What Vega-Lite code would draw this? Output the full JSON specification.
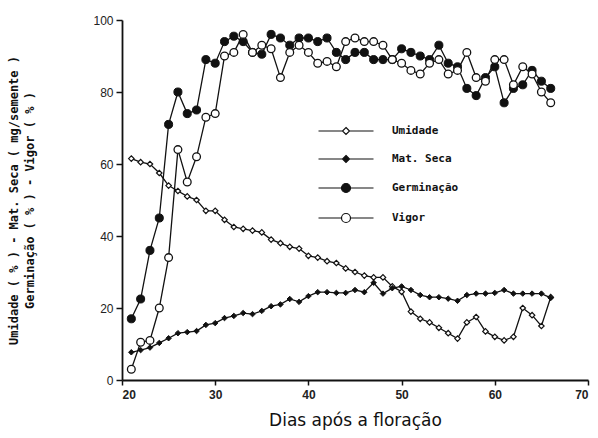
{
  "$schema": "https://vega.github.io/schema/vega-lite/v6.json",
  "autosize": "none",
  "width": 466,
  "height": 360,
  "padding": {"left": 122, "top": 20, "right": 10, "bottom": 58},
  "background": "white",
  "config": {
    "view": {"stroke": null},
    "axis": {"grid": false, "domainColor": "#111", "domainWidth": 1.8, "tickColor": "#111", "tickWidth": 1.5, "labelColor": "#222", "titleColor": "#111", "labelFont": "Liberation Sans", "titleFont": "DejaVu Sans"},
    "legend": {"title": null, "orient": "none", "legendX": 218, "legendY": 105, "symbolSize": 100, "labelOffset": 40, "rowPadding": 16, "labelFont": "DejaVu Sans Mono", "labelFontWeight": "bold", "labelFontSize": 11, "labelColor": "#111", "symbolStrokeWidth": 1.2, "symbolStrokeColor": "#111", "symbolOpacity": 1, "padding": 0}
  },
  "data": {"values": [
    {"dia":21,"serie":"Umidade","valor":61.5},{"dia":22,"serie":"Umidade","valor":60.5},{"dia":23,"serie":"Umidade","valor":60},{"dia":24,"serie":"Umidade","valor":57.5},{"dia":25,"serie":"Umidade","valor":54},{"dia":26,"serie":"Umidade","valor":52.5},{"dia":27,"serie":"Umidade","valor":51},{"dia":28,"serie":"Umidade","valor":50},{"dia":29,"serie":"Umidade","valor":47},{"dia":30,"serie":"Umidade","valor":47},{"dia":31,"serie":"Umidade","valor":44.5},{"dia":32,"serie":"Umidade","valor":42.5},{"dia":33,"serie":"Umidade","valor":42},{"dia":34,"serie":"Umidade","valor":41.5},{"dia":35,"serie":"Umidade","valor":41},{"dia":36,"serie":"Umidade","valor":39},{"dia":37,"serie":"Umidade","valor":38},{"dia":38,"serie":"Umidade","valor":37},{"dia":39,"serie":"Umidade","valor":36.5},{"dia":40,"serie":"Umidade","valor":34.5},{"dia":41,"serie":"Umidade","valor":34},{"dia":42,"serie":"Umidade","valor":33},{"dia":43,"serie":"Umidade","valor":32.5},{"dia":44,"serie":"Umidade","valor":31},{"dia":45,"serie":"Umidade","valor":30},{"dia":46,"serie":"Umidade","valor":29},{"dia":47,"serie":"Umidade","valor":28.5},{"dia":48,"serie":"Umidade","valor":28.5},{"dia":49,"serie":"Umidade","valor":26},{"dia":50,"serie":"Umidade","valor":24.5},{"dia":51,"serie":"Umidade","valor":19},{"dia":52,"serie":"Umidade","valor":17},{"dia":53,"serie":"Umidade","valor":16},{"dia":54,"serie":"Umidade","valor":14.5},{"dia":55,"serie":"Umidade","valor":13},{"dia":56,"serie":"Umidade","valor":11.5},{"dia":57,"serie":"Umidade","valor":16},{"dia":58,"serie":"Umidade","valor":17.5},{"dia":59,"serie":"Umidade","valor":13.5},{"dia":60,"serie":"Umidade","valor":12},{"dia":61,"serie":"Umidade","valor":11},{"dia":62,"serie":"Umidade","valor":12},{"dia":63,"serie":"Umidade","valor":20},{"dia":64,"serie":"Umidade","valor":18},{"dia":65,"serie":"Umidade","valor":15},{"dia":66,"serie":"Umidade","valor":23},
    {"dia":21,"serie":"Mat. Seca","valor":7.7},{"dia":22,"serie":"Mat. Seca","valor":8.3},{"dia":23,"serie":"Mat. Seca","valor":9},{"dia":24,"serie":"Mat. Seca","valor":10.3},{"dia":25,"serie":"Mat. Seca","valor":11.6},{"dia":26,"serie":"Mat. Seca","valor":13},{"dia":27,"serie":"Mat. Seca","valor":13.3},{"dia":28,"serie":"Mat. Seca","valor":13.6},{"dia":29,"serie":"Mat. Seca","valor":15.3},{"dia":30,"serie":"Mat. Seca","valor":15.8},{"dia":31,"serie":"Mat. Seca","valor":17.2},{"dia":32,"serie":"Mat. Seca","valor":17.8},{"dia":33,"serie":"Mat. Seca","valor":18.6},{"dia":34,"serie":"Mat. Seca","valor":18.3},{"dia":35,"serie":"Mat. Seca","valor":19.2},{"dia":36,"serie":"Mat. Seca","valor":20.5},{"dia":37,"serie":"Mat. Seca","valor":21},{"dia":38,"serie":"Mat. Seca","valor":22.5},{"dia":39,"serie":"Mat. Seca","valor":21.7},{"dia":40,"serie":"Mat. Seca","valor":23.3},{"dia":41,"serie":"Mat. Seca","valor":24.4},{"dia":42,"serie":"Mat. Seca","valor":24.4},{"dia":43,"serie":"Mat. Seca","valor":24.2},{"dia":44,"serie":"Mat. Seca","valor":24.2},{"dia":45,"serie":"Mat. Seca","valor":25},{"dia":46,"serie":"Mat. Seca","valor":24.4},{"dia":47,"serie":"Mat. Seca","valor":27},{"dia":48,"serie":"Mat. Seca","valor":24},{"dia":49,"serie":"Mat. Seca","valor":25.5},{"dia":50,"serie":"Mat. Seca","valor":26},{"dia":51,"serie":"Mat. Seca","valor":25},{"dia":52,"serie":"Mat. Seca","valor":23.6},{"dia":53,"serie":"Mat. Seca","valor":23},{"dia":54,"serie":"Mat. Seca","valor":23},{"dia":55,"serie":"Mat. Seca","valor":22.6},{"dia":56,"serie":"Mat. Seca","valor":22},{"dia":57,"serie":"Mat. Seca","valor":23.6},{"dia":58,"serie":"Mat. Seca","valor":24},{"dia":59,"serie":"Mat. Seca","valor":24},{"dia":60,"serie":"Mat. Seca","valor":24.2},{"dia":61,"serie":"Mat. Seca","valor":25},{"dia":62,"serie":"Mat. Seca","valor":24},{"dia":63,"serie":"Mat. Seca","valor":24},{"dia":64,"serie":"Mat. Seca","valor":24},{"dia":65,"serie":"Mat. Seca","valor":24},{"dia":66,"serie":"Mat. Seca","valor":22.8},
    {"dia":21,"serie":"Germinação","valor":17},{"dia":22,"serie":"Germinação","valor":22.5},{"dia":23,"serie":"Germinação","valor":36},{"dia":24,"serie":"Germinação","valor":45},{"dia":25,"serie":"Germinação","valor":71},{"dia":26,"serie":"Germinação","valor":80},{"dia":27,"serie":"Germinação","valor":74},{"dia":28,"serie":"Germinação","valor":75},{"dia":29,"serie":"Germinação","valor":89},{"dia":30,"serie":"Germinação","valor":88},{"dia":31,"serie":"Germinação","valor":94},{"dia":32,"serie":"Germinação","valor":95.5},{"dia":33,"serie":"Germinação","valor":94},{"dia":34,"serie":"Germinação","valor":91},{"dia":35,"serie":"Germinação","valor":90.5},{"dia":36,"serie":"Germinação","valor":96},{"dia":37,"serie":"Germinação","valor":95},{"dia":38,"serie":"Germinação","valor":93},{"dia":39,"serie":"Germinação","valor":95},{"dia":40,"serie":"Germinação","valor":95},{"dia":41,"serie":"Germinação","valor":94},{"dia":42,"serie":"Germinação","valor":95},{"dia":43,"serie":"Germinação","valor":91},{"dia":44,"serie":"Germinação","valor":89},{"dia":45,"serie":"Germinação","valor":91},{"dia":46,"serie":"Germinação","valor":91},{"dia":47,"serie":"Germinação","valor":89},{"dia":48,"serie":"Germinação","valor":89},{"dia":49,"serie":"Germinação","valor":89},{"dia":50,"serie":"Germinação","valor":92},{"dia":51,"serie":"Germinação","valor":91},{"dia":52,"serie":"Germinação","valor":90},{"dia":53,"serie":"Germinação","valor":89},{"dia":54,"serie":"Germinação","valor":93},{"dia":55,"serie":"Germinação","valor":88},{"dia":56,"serie":"Germinação","valor":87},{"dia":57,"serie":"Germinação","valor":81},{"dia":58,"serie":"Germinação","valor":79},{"dia":59,"serie":"Germinação","valor":84},{"dia":60,"serie":"Germinação","valor":87},{"dia":61,"serie":"Germinação","valor":77},{"dia":62,"serie":"Germinação","valor":81},{"dia":63,"serie":"Germinação","valor":82},{"dia":64,"serie":"Germinação","valor":86},{"dia":65,"serie":"Germinação","valor":83},{"dia":66,"serie":"Germinação","valor":81},
    {"dia":21,"serie":"Vigor","valor":3},{"dia":22,"serie":"Vigor","valor":10.5},{"dia":23,"serie":"Vigor","valor":11},{"dia":24,"serie":"Vigor","valor":20},{"dia":25,"serie":"Vigor","valor":34},{"dia":26,"serie":"Vigor","valor":64},{"dia":27,"serie":"Vigor","valor":55},{"dia":28,"serie":"Vigor","valor":62},{"dia":29,"serie":"Vigor","valor":73},{"dia":30,"serie":"Vigor","valor":74},{"dia":31,"serie":"Vigor","valor":90},{"dia":32,"serie":"Vigor","valor":91},{"dia":33,"serie":"Vigor","valor":96},{"dia":34,"serie":"Vigor","valor":91},{"dia":35,"serie":"Vigor","valor":93},{"dia":36,"serie":"Vigor","valor":92},{"dia":37,"serie":"Vigor","valor":84},{"dia":38,"serie":"Vigor","valor":91},{"dia":39,"serie":"Vigor","valor":93},{"dia":40,"serie":"Vigor","valor":91},{"dia":41,"serie":"Vigor","valor":88},{"dia":42,"serie":"Vigor","valor":88.5},{"dia":43,"serie":"Vigor","valor":87},{"dia":44,"serie":"Vigor","valor":94},{"dia":45,"serie":"Vigor","valor":95},{"dia":46,"serie":"Vigor","valor":94},{"dia":47,"serie":"Vigor","valor":94},{"dia":48,"serie":"Vigor","valor":93},{"dia":49,"serie":"Vigor","valor":89},{"dia":50,"serie":"Vigor","valor":88},{"dia":51,"serie":"Vigor","valor":86},{"dia":52,"serie":"Vigor","valor":85},{"dia":53,"serie":"Vigor","valor":88},{"dia":54,"serie":"Vigor","valor":89},{"dia":55,"serie":"Vigor","valor":85},{"dia":56,"serie":"Vigor","valor":86},{"dia":57,"serie":"Vigor","valor":91},{"dia":58,"serie":"Vigor","valor":84},{"dia":59,"serie":"Vigor","valor":83},{"dia":60,"serie":"Vigor","valor":89},{"dia":61,"serie":"Vigor","valor":89},{"dia":62,"serie":"Vigor","valor":82},{"dia":63,"serie":"Vigor","valor":87},{"dia":64,"serie":"Vigor","valor":85},{"dia":65,"serie":"Vigor","valor":80},{"dia":66,"serie":"Vigor","valor":77}
  ]},
  "encoding": {
    "x": {"field": "dia", "type": "quantitative", "scale": {"domain": [20, 70], "nice": false},
      "axis": {"values": [20, 30, 40, 50, 60, 70], "title": "Dias após a floração", "titleFontSize": 17, "titleFontWeight": "normal", "titlePadding": 12, "labelFontSize": 12, "labelFontWeight": "bold", "tickSize": 5, "labelPadding": 4}},
    "y": {"field": "valor", "type": "quantitative", "scale": {"domain": [0, 100], "nice": false},
      "axis": {"values": [0, 20, 40, 60, 80, 100], "title": ["Umidade ( % ) - Mat. Seca ( mg/semente )", "Germinação ( % ) - Vigor ( % )"], "titleFont": "DejaVu Sans Mono", "titleFontSize": 12, "titleFontWeight": "bold", "titleLineHeight": 16, "titlePadding": 56, "labelFontSize": 12, "tickSize": 6, "labelPadding": 3}}
  },
  "layer": [
    {"mark": {"type": "line", "color": "#111", "strokeWidth": 1.3}, "encoding": {"detail": {"field": "serie"}}},
    {"transform": [{"filter": {"field": "serie", "equal": "Umidade"}}], "mark": {"type": "point", "shape": "diamond", "size": 30, "fill": "white", "stroke": "#111", "strokeWidth": 1.2, "opacity": 1}},
    {"transform": [{"filter": {"field": "serie", "equal": "Mat. Seca"}}], "mark": {"type": "point", "shape": "diamond", "size": 30, "filled": true, "fill": "#111", "stroke": "#111", "strokeWidth": 1, "opacity": 1}},
    {"transform": [{"filter": {"field": "serie", "equal": "Germinação"}}], "mark": {"type": "point", "shape": "circle", "size": 65, "filled": true, "fill": "#111", "stroke": "#111", "strokeWidth": 1, "opacity": 1}},
    {"transform": [{"filter": {"field": "serie", "equal": "Vigor"}}], "mark": {"type": "point", "shape": "circle", "size": 60, "fill": "white", "stroke": "#111", "strokeWidth": 1.3, "opacity": 1}},
    {"mark": {"type": "point", "opacity": 0},
      "encoding": {
        "shape": {"field": "serie", "type": "nominal",
          "scale": {"domain": ["Umidade", "Mat. Seca", "Germinação", "Vigor"],
            "range": ["M-5.5,0L-0.7,0M0.7,0L5.5,0M0,-0.7L0.7,0L0,0.7L-0.7,0Z", "M-5.5,0L-0.7,0M0.7,0L5.5,0M0,-0.7L0.7,0L0,0.7L-0.7,0Z", "M-5.5,0L-0.9,0M0.9,0L5.5,0M-0.9,0A0.9,0.9,0,1,0,0.9,0A0.9,0.9,0,1,0,-0.9,0Z", "M-5.5,0L-0.9,0M0.9,0L5.5,0M-0.9,0A0.9,0.9,0,1,0,0.9,0A0.9,0.9,0,1,0,-0.9,0Z"]}},
        "fill": {"field": "serie", "type": "nominal",
          "scale": {"domain": ["Umidade", "Mat. Seca", "Germinação", "Vigor"], "range": ["white", "#111", "#111", "white"]}},
        "stroke": {"field": "serie", "type": "nominal",
          "scale": {"domain": ["Umidade", "Mat. Seca", "Germinação", "Vigor"], "range": ["#111", "#111", "#111", "#111"]}}
      }}
  ]
}
